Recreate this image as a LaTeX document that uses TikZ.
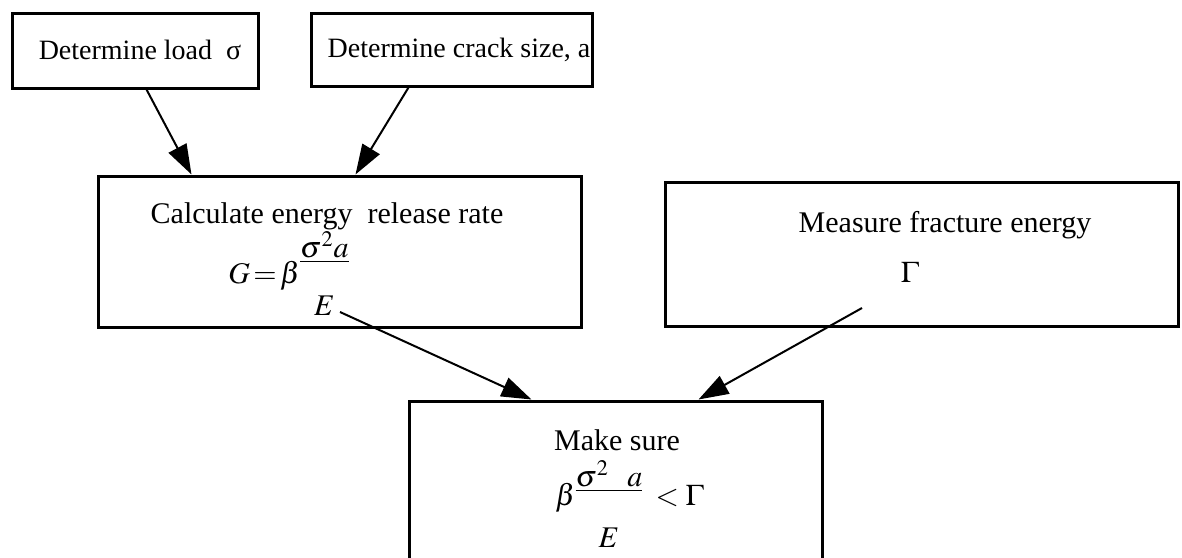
\documentclass[tikz,border=0pt]{standalone}
\usepackage{mathptmx}
\usepackage{fontspec}
\setmainfont{Liberation Serif}
\usetikzlibrary{arrows.meta}
\nulldelimiterspace = 0pt
\tikzset{box/.style = {draw, line width = 1.5pt, inner sep = 0pt}}
\tikzset{txt/.style = {inner sep = 0pt, font = \fontsize{15}{18}\selectfont}}
\tikzset{small/.style = {inner sep = 0pt, font = \fontsize{14}{17}\selectfont}}
\tikzset{edge/.style = {line width = 1pt, -{Triangle[length = 15pt, width = 10pt]}}}

\begin{document}
\begin{tikzpicture}[x = 0.5pt, y = -0.5pt]
			\useasboundingbox (0, 0) rectangle (1182, 557);
			\clip (0, 0) rectangle (1182, 557);

			\node[box, minimum width = 123pt, minimum height = 37.5pt] (load) at (135, 50.5) {};
			\node[box, minimum width = 140.5pt, minimum height = 36.5pt] (crack) at (451.5, 49.5) {};
			\node[box, minimum width = 241.5pt, minimum height = 75.5pt] (calc) at (339.5, 251.5) {};
			\node[box, minimum width = 256.5pt, minimum height = 72pt] (meas) at (921.5, 254) {};
			\node[box, minimum width = 206.5pt, minimum height = 99.5pt] (sure) at (615.5, 500.5) {};

			\node[small] (loadtxt) at (140, 50) {Determine load\ \ σ};
			\node[small] (cracktxt) at (459, 50) {Determine crack size, a};
			\node[txt] (calctxt) at (327, 216) {Calculate energy\ \ release rate};
			\node[txt, anchor = base west] (gform) at (228, 283)
				{$G\mkern2mu{=}\mkern2mu\beta\raisebox{7pt}{$\frac{\textstyle\sigma^2 a}{\rule{0pt}{26pt}\textstyle E}$}$};
			\node[txt] (meastxt) at (945, 225) {Measure fracture energy};
			\node[txt] (gam) at (910, 272) {$\Gamma$};
			\node[txt] (suretxt) at (617, 440) {Make sure};
			\node[txt, anchor = base west] (sform) at (555, 505)
				{$\beta\raisebox{3.5pt}{$\frac{\textstyle\sigma^2\mkern11mu a}{\rule{0pt}{27.5pt}\textstyle E}$}\mkern8mu{<}\mkern4mu\Gamma$};

			\coordinate (gout) at (340, 312);
			\coordinate (mout) at (862, 308);

			\draw[edge] ([xshift = 68pt]load.south west) -- ([xshift = 47.5pt]calc.north west);
			\draw[edge] ([xshift = 49.5pt]crack.south west) -- ([xshift = 129.5pt]calc.north west);
			\draw[edge] (gout) -- ([xshift = 62pt]sure.north west);
			\draw[edge] (mout) -- ([xshift = 145.5pt]sure.north west);
		\end{tikzpicture}
\end{document}
